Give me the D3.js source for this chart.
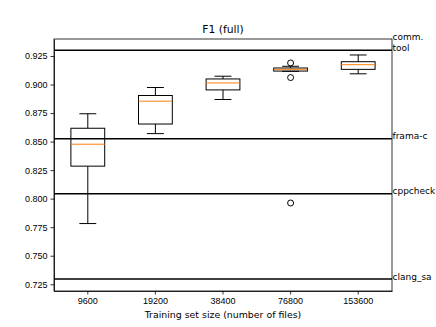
<!DOCTYPE html>
<meta charset="utf-8">
<style>
body { margin: 0; background: #fff; }
svg { font-family: "DejaVu Sans", sans-serif; }
.axis text { font-size: 9px; fill: #000; }
.axis path, .axis line { stroke: #000; stroke-width: 0.8px; }
.box rect { fill: none; stroke: #000; stroke-width: 1px; }
.box line { stroke: #000; stroke-width: 1px; }
.box .median { stroke: #ff7f0e; stroke-width: 1px; }
.outlier { fill: none; stroke: #000; stroke-width: 1px; }
.ref { stroke: #000; stroke-width: 1.5px; }
.reflabel { font-size: 9px; }
</style>
<svg width="436" height="327"></svg>
<script src="https://cdn.jsdelivr.net/npm/d3@7"></script>
<script>

// training set sizes
var sizes = ["9600", "19200", "38400", "76800", "153600"];

// box stats
var whiskerLow  = [0.7782, 0.8570, 0.8869, 0.9116, 0.9094];
var q1          = [0.8285, 0.8654, 0.8953, 0.9118, 0.9133];
var medians     = [0.8477, 0.8854, 0.9014, 0.9133, 0.9174];
var q3          = [0.8617, 0.8904, 0.9049, 0.9145, 0.9200];
var whiskerHigh = [0.8744, 0.8974, 0.9073, 0.9160, 0.9259];
var outliers    = [[], [], [], [0.9189, 0.9061, 0.7962], []];

// reference tools (horizontal lines)
var tools = ["comm.\ntool", "frama-c", "cppcheck", "clang_sa"];
var toolScores = [0.9300, 0.8524, 0.8044, 0.7296];

var yTicks = [0.725, 0.750, 0.775, 0.800, 0.825, 0.850, 0.875, 0.900, 0.925];

var svg = d3.select("svg"),
    margin = {top: 39, right: 44, bottom: 36, left: 54},
    width = 436 - margin.left - margin.right,
    height = 327 - margin.top - margin.bottom,
    g = svg.append("g").attr("transform", "translate(" + margin.left + "," + margin.top + ")");

var x = d3.scaleBand().domain(sizes).range([0, width]).padding(0),
    y = d3.scaleLinear().domain([0.7191, 0.9399]).range([height, 0]);

var boxW = x.bandwidth() * 0.5,
    capW = x.bandwidth() * 0.25;

var data = sizes.map(function(s, i) {
  return {size: s, lo: whiskerLow[i], q1: q1[i], med: medians[i], q3: q3[i], hi: whiskerHigh[i], out: outliers[i]};
});

// reference lines
g.selectAll(".ref")
    .data(toolScores)
  .enter().append("line")
    .attr("class", "ref")
    .attr("x1", 0)
    .attr("x2", width)
    .attr("y1", function(d) { return y(d); })
    .attr("y2", function(d) { return y(d); });

var box = g.selectAll(".box")
    .data(data)
  .enter().append("g")
    .attr("class", "box")
    .attr("transform", function(d) { return "translate(" + (x(d.size) + x.bandwidth() / 2) + ",0)"; });

// whiskers
box.append("line")
    .attr("x1", 0).attr("x2", 0)
    .attr("y1", function(d) { return y(d.q3); })
    .attr("y2", function(d) { return y(d.hi); });
box.append("line")
    .attr("x1", 0).attr("x2", 0)
    .attr("y1", function(d) { return y(d.q1); })
    .attr("y2", function(d) { return y(d.lo); });
// caps
box.append("line")
    .attr("x1", -capW / 2).attr("x2", capW / 2)
    .attr("y1", function(d) { return y(d.hi); })
    .attr("y2", function(d) { return y(d.hi); });
box.append("line")
    .attr("x1", -capW / 2).attr("x2", capW / 2)
    .attr("y1", function(d) { return y(d.lo); })
    .attr("y2", function(d) { return y(d.lo); });

box.append("rect")
    .attr("x", -boxW / 2)
    .attr("width", boxW)
    .attr("y", function(d) { return y(d.q3); })
    .attr("height", function(d) { return y(d.q1) - y(d.q3); });

box.append("line")
    .attr("class", "median")
    .attr("x1", -boxW / 2).attr("x2", boxW / 2)
    .attr("y1", function(d) { return y(d.med); })
    .attr("y2", function(d) { return y(d.med); });

box.selectAll(".outlier")
    .data(function(d) { return d.out; })
  .enter().append("circle")
    .attr("class", "outlier")
    .attr("cx", 0)
    .attr("cy", function(d) { return y(d); })
    .attr("r", 3);

// axes
g.append("g")
    .attr("class", "axis")
    .attr("transform", "translate(0," + height + ")")
    .call(d3.axisBottom(x).tickSize(3.5).tickPadding(3).tickSizeOuter(0));

g.append("g")
    .attr("class", "axis")
    .call(d3.axisLeft(y).tickValues(yTicks).tickFormat(d3.format(".3f")).tickSize(3.5).tickPadding(3).tickSizeOuter(0));

// frame
g.append("rect")
    .attr("width", width)
    .attr("height", height)
    .style("fill", "none")
    .style("stroke", "#000")
    .style("stroke-width", "0.8px");

// labels for reference lines, last line baseline sits on the line
var lbl = g.selectAll(".reflabel")
    .data(tools)
  .enter().append("text")
    .attr("class", "reflabel")
    .attr("x", width + 0.5)
    .attr("y", function(d, i) { return y(toolScores[i]) + 0.5; });

lbl.selectAll("tspan")
    .data(function(d) { var parts = d.split("\n"); return parts.map(function(p, j) { return {t: p, off: j - (parts.length - 1)}; }); })
  .enter().append("tspan")
    .attr("x", width + 0.5)
    .attr("dy", function(d, j) { return j === 0 ? (d.off * 10.5) : 10.5; })
    .text(function(d) { return d.t; });

svg.append("text")
    .attr("x", margin.left + width / 2)
    .attr("y", 33)
    .attr("text-anchor", "middle")
    .style("font-size", "10.8px")
    .text("F1 (full)");

svg.append("text")
    .attr("x", margin.left + width / 2)
    .attr("y", 318)
    .attr("text-anchor", "middle")
    .style("font-size", "9.4px")
    .text("Training set size (number of files)");

</script>
